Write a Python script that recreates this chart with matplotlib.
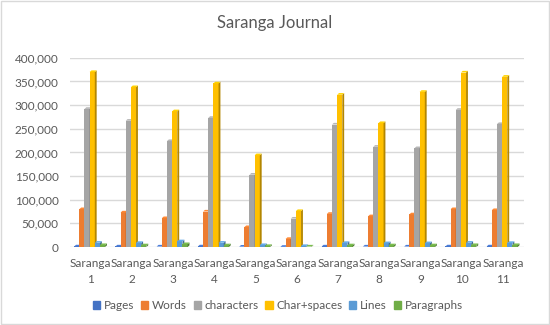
import matplotlib
matplotlib.use("Agg")
import matplotlib.pyplot as plt
import matplotlib.colors as mcolors
import numpy as np
from matplotlib.ticker import FuncFormatter

categories = ["Saranga\n1", "Saranga\n2", "Saranga\n3", "Saranga\n4", "Saranga\n5", "Saranga\n6",
              "Saranga\n7", "Saranga\n8", "Saranga\n9", "Saranga\n10", "Saranga\n11"]
series_names = ["Pages", "Words", "characters", "Char+spaces", "Lines", "Paragraphs"]
pages = [1200, 1100, 1000, 1200, 700, 300, 1100, 1000, 1000, 1200, 1200]
words = [80000, 73000, 61000, 75000, 42000, 17000, 70000, 65000, 69000, 80000, 78000]
characters = [292000, 267000, 224000, 273000, 153000, 60000, 259000, 212000, 209000, 290000, 260000]
char_spaces = [370000, 338000, 287000, 346000, 194000, 76000, 322000, 262000, 328000, 369000, 360000]
lines = [9000, 8500, 12000, 9000, 4000, 2000, 8500, 8000, 8000, 9000, 8500]
paragraphs = [4000, 3500, 6000, 3500, 2000, 1000, 3500, 3500, 3500, 4000, 4000]
colors = ["#4472C4", "#ED7D31", "#A5A5A5", "#FFC000", "#5B9BD5", "#70AD47"]

data = [pages, words, characters, char_spaces, lines, paragraphs]

plt.rcParams['font.family'] = ['Lato', 'DejaVu Sans']
fig = plt.figure(figsize=(5.5, 3.25), dpi=100)
fig.patch.set_facecolor("white")
ax = fig.add_axes([0.127, 0.24, 0.825, 0.582])

n = len(series_names)
x = np.arange(len(categories))
w = 0.125
dx = 0.045   # depth in x (category units)
dy = 3500    # depth in y (data units)

for i, (vals, col) in enumerate(zip(data, colors)):
    pos = x + (i - (n - 1) / 2) * w - 0.02
    dark = tuple(np.array(mcolors.to_rgb(col)) * 0.7)
    light = tuple(np.minimum(np.array(mcolors.to_rgb(col)) * 1.1, 1))
    ax.bar(pos, vals, width=w, color=col, zorder=3, linewidth=0)
    for p, v in zip(pos, vals):
        r = p + w / 2
        l = p - w / 2
        ax.fill([r, r + dx, r + dx, r], [0, dy, v + dy, v], color=dark, zorder=3, linewidth=0)
        ax.fill([l, l + dx, r + dx, r], [v, v + dy, v + dy, v], color=light, zorder=3, linewidth=0)

ax.set_xlim(-0.5, len(categories) - 0.5)
ax.set_ylim(0, 400000)
ax.set_yticks(np.arange(0, 400001, 50000))
ax.yaxis.set_major_formatter(FuncFormatter(lambda v, p: f"{int(v):,}"))
ax.grid(axis="y", color="#D9D9D9", linewidth=1, zorder=0)
ax.set_xticks(x)
ax.set_xticklabels(categories, linespacing=1.5)
ax.tick_params(axis="x", length=0, labelsize=8.5, colors="#595959", pad=8)
ax.tick_params(axis="y", length=0, labelsize=8.5, colors="#595959", pad=8)
for s in ax.spines.values():
    s.set_visible(False)

fig.text(0.5, 0.93, "Saranga Journal", ha="center", va="center", fontsize=12, color="#595959")

handles = [plt.Rectangle((0, 0), 1, 1, color=c) for c in colors]
fig.legend(handles, series_names, loc="center", bbox_to_anchor=(0.505, 0.06), ncol=6, frameon=False,
           fontsize=8.5, handlelength=0.6, handleheight=0.6, columnspacing=0.6, handletextpad=0.3,
           labelcolor="#595959")

border = plt.Rectangle((0.002, 0.003), 0.996, 0.994, transform=fig.transFigure, fill=False,
                       edgecolor="#D9D9D9", linewidth=1)
fig.patches.append(border)

fig.savefig("out.png", dpi=100)
